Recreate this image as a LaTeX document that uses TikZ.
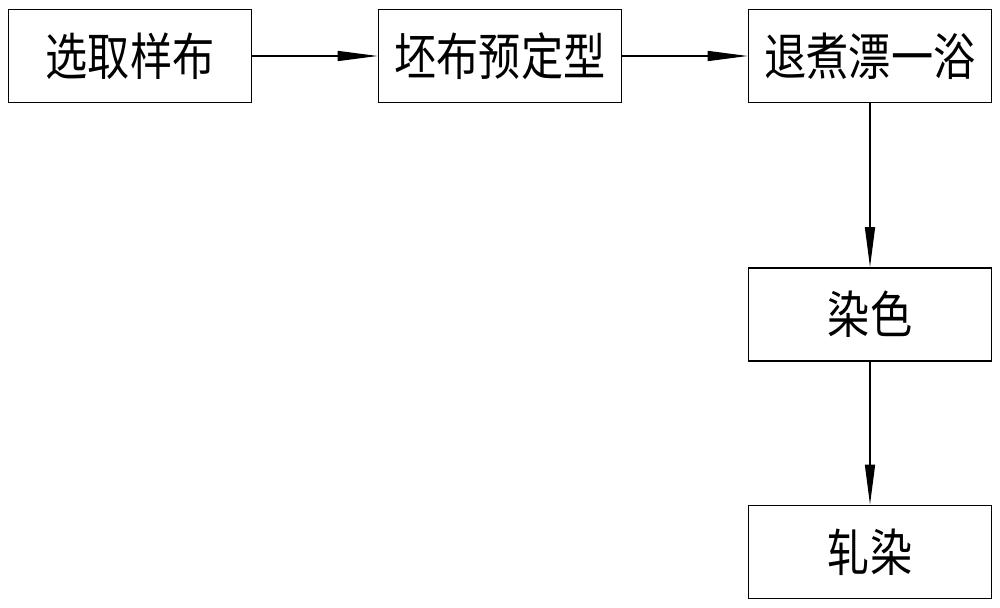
\documentclass[tikz,border=0pt]{standalone}
\usepackage{fontspec}
\usepackage{graphicx}
\newfontfamily\cjk{Noto Sans CJK SC}
\usetikzlibrary{arrows.meta,positioning}

% taller step text, as in the reference
\newcommand{\steptext}[1]{\scalebox{1}[1.2]{#1}}

\tikzset{
  stepbox/.style={draw,line width=0.9pt,minimum width=4.86cm,minimum height=1.86cm,inner sep=0pt,font=\cjk\fontsize{24pt}{26pt}\selectfont},
  flow/.style={-{Triangle[length=8mm,width=2mm]},line width=0.8pt}
}

\begin{document}
\begin{tikzpicture}
            \useasboundingbox (0,0) rectangle (20,-12.16);

            % Top row of steps
            \node[stepbox] (choose) at (2.6,-1.12) {\steptext{选取样布}};
            \node[stepbox] (preset) at (10,-1.12) {\steptext{坯布预定型}};
            \node[stepbox] (scour) at (17.4,-1.12) {\steptext{退煮漂一浴}};

            % Right column of steps
            \node[stepbox] (dye) at (17.4,-6.29) {\steptext{染色}};
            \node[stepbox] (pad) at (17.4,-11.04) {\steptext{轧染}};

            % Arrows between steps
            \draw[flow] (choose) -- (preset);
            \draw[flow] (preset) -- (scour);
            \draw[flow] (scour) -- (dye);
            \draw[flow] (dye) -- (pad);

\end{tikzpicture}
\end{document}
